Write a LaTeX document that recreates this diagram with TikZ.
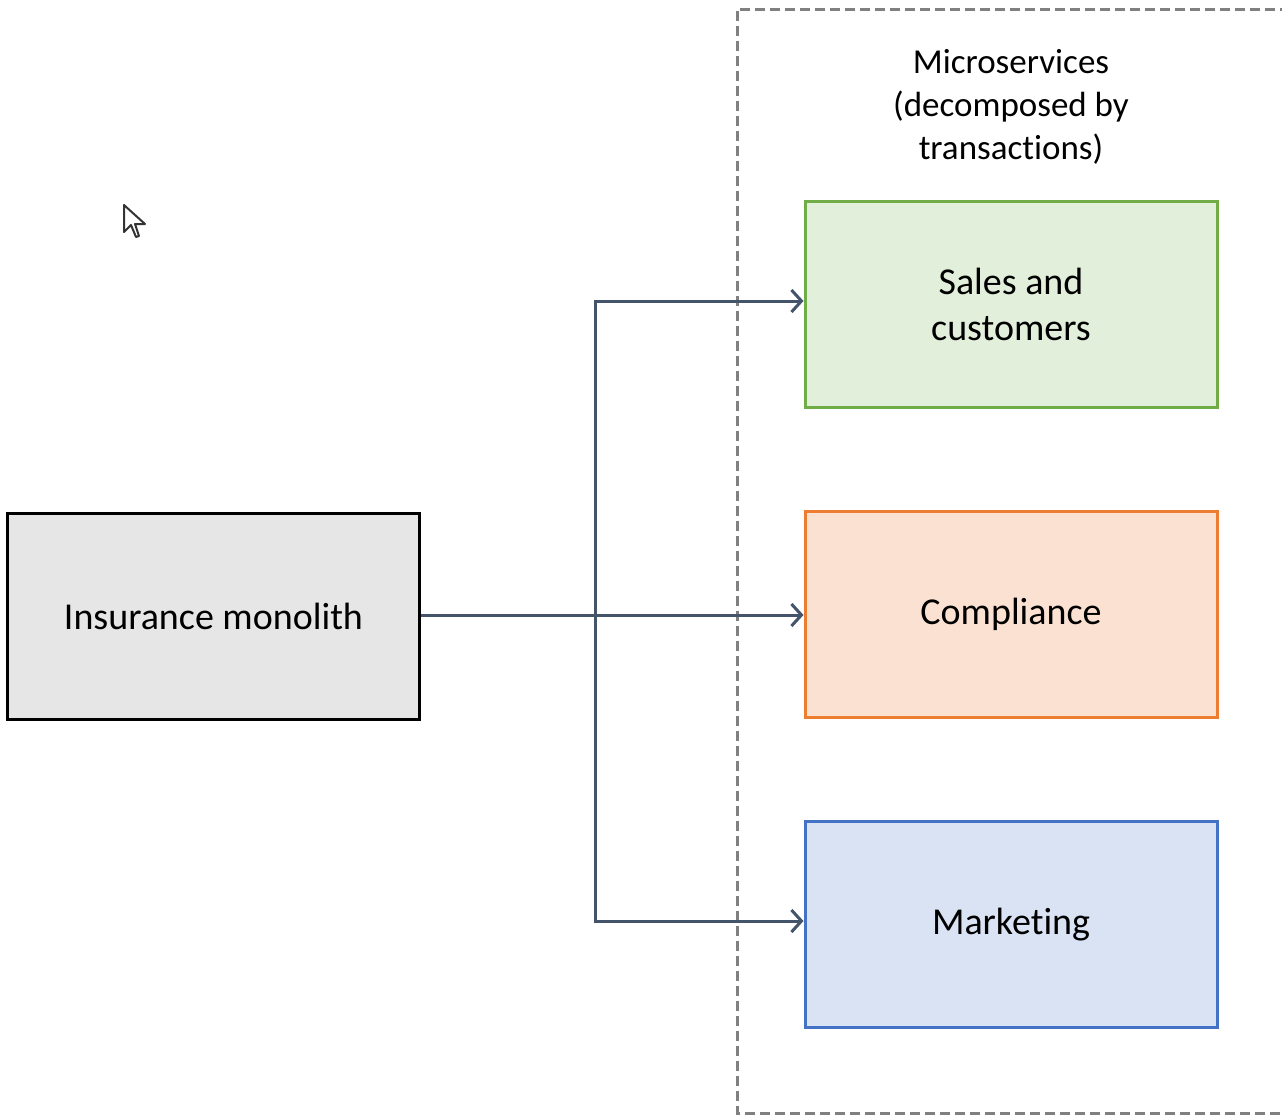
\documentclass[tikz,border=0pt]{standalone}
\usepackage{fontspec}
\setmainfont{Carlito}[Ligatures=NoCommon]
\usetikzlibrary{arrows.meta}
\definecolor{conn}{HTML}{44546A}
\definecolor{mono}{HTML}{E7E6E6}
\definecolor{salesfill}{HTML}{E2EFDA}
\definecolor{salesdraw}{HTML}{70AD47}
\definecolor{compfill}{HTML}{FBE1D2}
\definecolor{compdraw}{HTML}{ED7D31}
\definecolor{mktfill}{HTML}{DAE3F3}
\definecolor{mktdraw}{HTML}{4472C4}
\definecolor{dashgray}{HTML}{808080}
\tikzset{
  box/.style={rectangle, minimum width=412pt, minimum height=206pt, line width=3pt, align=center, font=\fontsize{38}{46}\selectfont, inner sep=0pt},
  conline/.style={draw=conn, line width=3pt},
  conarrow/.style={conline, -{Straight Barb[length=10pt,width=22pt,line width=3pt]}},
}
\begin{document}
\begin{tikzpicture}[x=1pt,y=-1pt]
\useasboundingbox (0,0) rectangle (1282,1117);
% container
\draw[dashgray, line width=3pt, dash pattern=on 10pt off 5pt] (1290,9) -- (737,9) -- (737,1113) -- (1290,1113);
\node[align=center, font=\fontsize{35}{43}\selectfont] (title) at (1011,107) {Microservices\\(decomposed by\\transactions)};
% nodes
\node[box, draw=black, fill=mono] (mono) at (213.5,616) {Insurance monolith};
\node[box, draw=salesdraw, fill=salesfill] (sales) at (1011,304) {Sales and\\customers};
\node[box, draw=compdraw, fill=compfill] (comp) at (1011,614) {\raisebox{-3.5pt}{Compliance}};
\node[box, draw=mktdraw, fill=mktfill] (mkt) at (1011,924.5) {\raisebox{-3.5pt}{Marketing}};
% connectors
\draw[conarrow] (mono.east |- 0,615) -- (comp.west |- 0,615);
\draw[conarrow] (595,615) |- (sales.west |- 0,301);
\draw[conarrow] (595,615) |- (mkt.west |- 0,921);
% cursor
\draw[black!80, line width=2pt, line join=round, fill=white] (124,205) -- (124,232) -- (131,225) -- (136,237) -- (139,236) -- (135,224) -- (145,224) -- cycle;
\end{tikzpicture}
\end{document}
